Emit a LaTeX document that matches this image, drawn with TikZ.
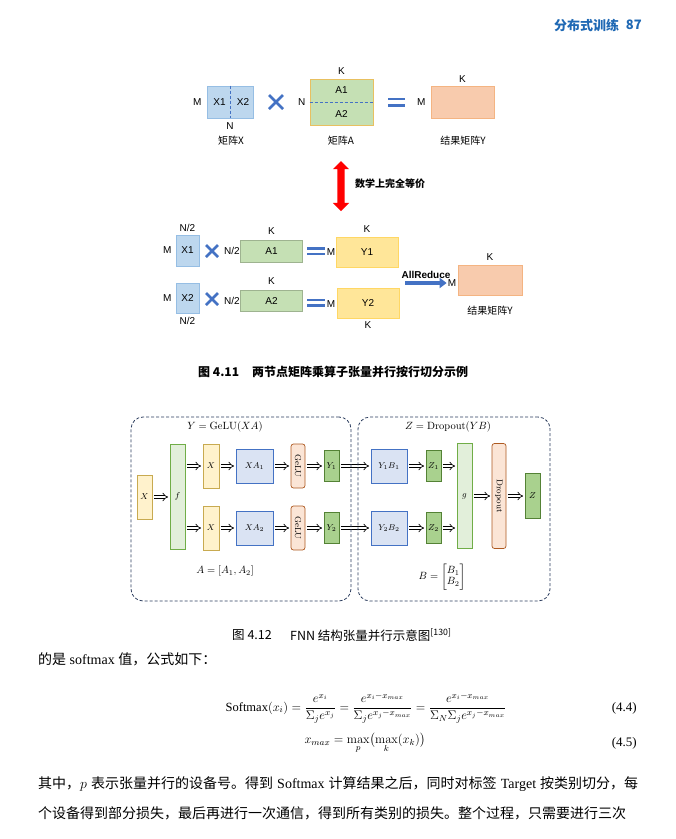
\RequirePackage{fix-cm}
\documentclass[tikz,border=0pt]{standalone}
\usepackage{amsmath}
\usepackage[no-math]{fontspec}
\setmainfont{Liberation Serif}
\newfontfamily\cjk{Noto Sans CJK SC}
\newfontfamily\arial{Liberation Sans}
\XeTeXlinebreaklocale "zh"
\XeTeXlinebreakskip=0pt plus 2pt
\usetikzlibrary{positioning,arrows.meta,shapes.arrows}

\definecolor{pageblue}{RGB}{30,104,180}
\definecolor{opblue}{RGB}{68,114,196}
\definecolor{xfill}{RGB}{189,215,238}
\definecolor{xline}{RGB}{150,190,228}
\definecolor{afill}{RGB}{197,224,180}
\definecolor{aline}{RGB}{232,192,96}
\definecolor{rfill}{RGB}{248,203,173}
\definecolor{rline}{RGB}{244,180,130}
\definecolor{yfill}{RGB}{255,230,153}
\definecolor{yline}{RGB}{255,215,100}
% colours of the FNN figure
\definecolor{inyel}{RGB}{255,242,204}
\definecolor{inyelb}{RGB}{200,170,80}
\definecolor{ltgreen}{RGB}{226,239,218}
\definecolor{ltgreenb}{RGB}{112,173,71}
\definecolor{mmblue}{RGB}{218,227,243}
\definecolor{mmblueb}{RGB}{68,114,196}
\definecolor{actfill}{RGB}{251,229,214}
\definecolor{actline}{RGB}{174,90,33}
\definecolor{dkgreen}{RGB}{169,209,142}
\definecolor{dkgreenb}{RGB}{84,130,53}
\definecolor{framec}{RGB}{45,62,95}

\begin{document}
\begin{tikzpicture}[x=1pt,y=-1pt,
    lbl/.style = {font=\arial\fontsize{10}{10}\selectfont, inner sep=0pt},
    cn/.style = {font=\cjk\fontsize{10}{10}\selectfont, inner sep=0pt},
    mat/.style = {draw, line width=0.8pt, inner sep=0pt, font=\arial\fontsize{10}{10}\selectfont},
    bar/.style = {opblue, line width=2.6pt},
    cut/.style = {opblue, line width=0.8pt, dash pattern=on 3pt off 2pt},
    blk/.style = {draw, line width=0.7pt, inner sep=0pt, font=\fontsize{8.5}{9}\selectfont},
    vblk/.style = {blk, rounded corners=2.5pt, fill=actfill, draw=actline},
    flow/.style = {double, double distance=2.2pt, line width=0.7pt, -{Implies}, shorten <=1.5pt, shorten >=1.5pt},
    frame/.style = {draw=framec, line width=0.8pt, dash pattern=on 3pt off 2pt, rounded corners=12pt, inner sep=0pt},
    math/.style = {inner sep=0pt, font=\fontsize{10.5}{11}\selectfont},
    body/.style = {anchor=west, inner sep=0pt, font=\fontsize{14}{14}\selectfont}]
\useasboundingbox (0,0) rectangle (676,839);
\fill[white] (0,0) rectangle (676,839);

% running head
\node[anchor=west, inner sep=0pt, text=pageblue, font=\cjk\bfseries\fontsize{13}{13}\selectfont] (chap) at (554,25) {分布式训练};
\node[anchor=east, inner sep=0pt, text=pageblue, font=\cjk\bfseries\fontsize{13}{13}\selectfont] (pgno) at (642,25) {87};

% ---- figure 4.11, whole product
\node[mat, fill=xfill, draw=xline, minimum width=46pt, minimum height=32pt] (matx) at (230,102) {};
\draw[cut] (matx.north) -- (matx.south);
\node[lbl] (x1) at (219.5,102) {X1};
\node[lbl] (x2) at (243,102) {X2};
\node[lbl, left=5pt of matx] (mx) {M};
\node[lbl, below=4pt of matx] (nx) {N};
\node[cn] (capx) at (231,141) {矩阵X};
\draw[bar] (269,95) -- (283,109) (269,109) -- (283,95);

\node[mat, fill=afill, draw=aline, minimum width=63pt, minimum height=46pt] (mata) at (341.5,102) {};
\draw[cut] (mata.west) -- (mata.east);
\node[lbl] (a1) at (341.5,90) {A1};
\node[lbl] (a2) at (341.5,114) {A2};
\node[lbl, above=4pt of mata] (ka) {K};
\node[lbl, left=4pt of mata] (na) {N};
\node[cn] (capa) at (341,141) {矩阵A};
\draw[bar] (388,99) -- (405,99) (388,105.5) -- (405,105.5);

\node[mat, fill=rfill, draw=rline, minimum width=63pt, minimum height=32pt] (maty) at (462.5,102) {};
\node[lbl, left=5pt of maty] (my) {M};
\node[lbl, above=3pt of maty] (ky) {K};
\node[cn] (capy) at (463,141) {结果矩阵Y};

% equivalence arrow
\node[double arrow, fill=red, draw=none, rotate=90, minimum height=50pt,
      double arrow head extend=4.5pt, inner sep=3.5pt] (eqv) at (341,186) {};
\node[cn, anchor=west, font=\cjk\bfseries\fontsize{10}{10}\selectfont] (eqvt) at (355,184) {数学上完全等价};

% ---- figure 4.11, two nodes
\node[mat, fill=xfill, draw=xline, minimum width=23pt, minimum height=31pt] (x1b) at (187.5,250.5) {X1};
\node[lbl, above=3pt of x1b] (n1) {N/2};
\node[lbl, left=4pt of x1b] (m1) {M};
\draw[bar] (206,245) -- (218,257) (206,257) -- (218,245);
\node[lbl] (na1) at (232,251) {N/2};
\node[mat, fill=afill, draw=afill!80!black, minimum width=62pt, minimum height=22pt] (a1b) at (271.5,251) {A1};
\node[lbl, above=5pt of a1b] (ka1) {K};
\draw[bar] (307,248.5) -- (325,248.5) (307,254) -- (325,254);
\node[lbl] (my1) at (331,252) {M};
\node[mat, fill=yfill, draw=yline, minimum width=62pt, minimum height=30pt] (y1b) at (367,252) {Y1};
\node[lbl, above=4pt of y1b] (ky1) {K};

\node[mat, fill=xfill, draw=xline, minimum width=23pt, minimum height=30pt] (x2b) at (187.5,298) {X2};
\node[lbl, below=4pt of x2b] (n2) {N/2};
\node[lbl, left=4pt of x2b] (m2) {M};
\draw[bar] (206,293) -- (218,305) (206,305) -- (218,293);
\node[lbl] (na2) at (232,301) {N/2};
\node[mat, fill=afill, draw=afill!80!black, minimum width=62pt, minimum height=21pt] (a2b) at (271.5,301) {A2};
\node[lbl, above=5pt of a2b] (ka2) {K};
\draw[bar] (307,300) -- (325,300) (307,305.5) -- (325,305.5);
\node[lbl] (my2) at (331,304) {M};
\node[mat, fill=yfill, draw=yline, minimum width=62pt, minimum height=30pt] (y2b) at (368,303) {Y2};
\node[lbl, below=3pt of y2b] (ky2) {K};

\node[lbl, font=\arial\bfseries\fontsize{10}{10}\selectfont] (allred) at (426,275) {AllReduce};
\coordinate (arst) at (405,283);
\node[lbl] (mres) at (452,283) {M};
\draw[opblue, line width=3.2pt, -{Triangle[length=7pt,width=10pt]}, shorten >=1pt] (arst) -- (mres.west);
\node[mat, fill=rfill, draw=rline, minimum width=64pt, minimum height=30pt] (res) at (490,280) {};
\node[lbl, above=4pt of res] (kres) {K};
\node[cn] (capres) at (490,311) {结果矩阵Y};

\node[anchor=west, inner sep=0pt, font=\cjk\bfseries\fontsize{12}{12}\selectfont] (fig1) at (198,372) {图 4.11};
\node[anchor=west, inner sep=0pt, font=\cjk\bfseries\fontsize{12}{12}\selectfont] (fig1t) at (252,372) {两节点矩阵乘算子张量并行按行切分示例};

% ---- figure 4.12
\node[blk, fill=inyel, draw=inyelb, minimum width=15pt, minimum height=44pt] (xin) at (144.5,497) {$X$};
\node[blk, fill=ltgreen, draw=ltgreenb, minimum width=15pt, minimum height=105pt] (f) at (177.5,496.5) {$f$};
\node[blk, fill=inyel, draw=inyelb, minimum width=16pt, minimum height=44pt] (xa) at (211,466) {$X$};
\node[blk, fill=inyel, draw=inyelb, minimum width=16pt, minimum height=44pt] (xb) at (211,528) {$X$};
\node[blk, fill=mmblue, draw=mmblueb, minimum width=37pt, minimum height=34pt] (xaa) at (254.5,466) {$XA_1$};
\node[blk, fill=mmblue, draw=mmblueb, minimum width=37pt, minimum height=34pt] (xab) at (254.5,528) {$XA_2$};
\node[vblk, minimum width=14pt, minimum height=44pt] (gela) at (298,466) {\rotatebox{-90}{$\mathrm{GeLU}$}};
\node[vblk, minimum width=14pt, minimum height=44pt] (gelb) at (298,528) {\rotatebox{-90}{$\mathrm{GeLU}$}};
\node[blk, fill=dkgreen, draw=dkgreenb, minimum width=15pt, minimum height=31pt] (ya) at (331.5,466) {$Y_1$};
\node[blk, fill=dkgreen, draw=dkgreenb, minimum width=15pt, minimum height=31pt] (yb) at (331.5,528) {$Y_2$};

\node[blk, fill=mmblue, draw=mmblueb, minimum width=36pt, minimum height=34pt] (yba) at (389,466) {$Y_1B_1$};
\node[blk, fill=mmblue, draw=mmblueb, minimum width=36pt, minimum height=34pt] (ybb) at (389,528) {$Y_2B_2$};
\node[blk, fill=dkgreen, draw=dkgreenb, minimum width=15pt, minimum height=31pt] (za) at (433.5,466) {$Z_1$};
\node[blk, fill=dkgreen, draw=dkgreenb, minimum width=15pt, minimum height=31pt] (zb) at (433.5,528) {$Z_2$};
\node[blk, fill=ltgreen, draw=ltgreenb, minimum width=15pt, minimum height=105pt] (gmerge) at (464.5,496) {$g$};
\node[vblk, minimum width=14pt, minimum height=105pt] (dropout) at (499,496) {\rotatebox{-90}{$\mathrm{Dropout}$}};
\node[blk, fill=dkgreen, draw=dkgreenb, minimum width=15pt, minimum height=45pt] (zout) at (532.5,496) {$Z$};

\draw[flow] (xin.east) -- (xin.east -| f.west);
\draw[flow] (f.east |- xa) -- (xa);
\draw[flow] (f.east |- xb) -- (xb);
\draw[flow] (xa) -- (xaa);
\draw[flow] (xb) -- (xab);
\draw[flow] (xaa) -- (gela);
\draw[flow] (xab) -- (gelb);
\draw[flow] (gela) -- (ya);
\draw[flow] (gelb) -- (yb);
\draw[flow] (ya) -- (yba);
\draw[flow] (yb) -- (ybb);
\draw[flow] (yba) -- (za);
\draw[flow] (ybb) -- (zb);
\draw[flow] (za) -- (za -| gmerge.west);
\draw[flow] (zb) -- (zb -| gmerge.west);
\draw[flow] (gmerge) -- (dropout);
\draw[flow] (dropout) -- (zout);

\node[frame, minimum width=220pt, minimum height=184pt] (lfrm) at (241,509) {};
\node[frame, minimum width=192pt, minimum height=184pt] (rfrm) at (454,509) {};
\node[math] (ttl) at (225,427) {$Y=\mathrm{GeLU}(XA)$};
\node[math] (ttr) at (448,427) {$Z=\mathrm{Dropout}(YB)$};
\node[math] (asplit) at (225,571) {$A=[A_1,A_2]$};
\node[math] (bsplit) at (442,577) {$B=\begin{bmatrix}B_1\\B_2\end{bmatrix}$};

\node[anchor=west, inner sep=0pt, font=\cjk\fontsize{12.5}{13}\selectfont] (fig2) at (232,635) {图 4.12};
\node[anchor=west, inner sep=0pt, font=\cjk\fontsize{12.5}{13}\selectfont] (fig2t) at (290,635) {FNN 结构张量并行示意图\textsuperscript{[130]}};

% ---- running text and formulas
\node[body] (line0) at (38,659) {{\cjk 的是} softmax {\cjk 值，公式如下：}};
\node[inner sep=0pt, font=\fontsize{12.5}{13}\selectfont] (eqa) at (366,708)
  {$\displaystyle \text{Softmax}(x_i)=\frac{e^{x_i}}{\Sigma_j e^{x_j}}=\frac{e^{x_i-x_{max}}}{\Sigma_j e^{x_j-x_{max}}}=\frac{e^{x_i-x_{max}}}{\Sigma_N\Sigma_j e^{x_j-x_{max}}}$};
\node[anchor=east, inner sep=0pt, font=\fontsize{13}{13}\selectfont] (eqan) at (637,708) {(4.4)};
\node[inner sep=0pt, font=\fontsize{12.5}{13}\selectfont] (eqb) at (365,743) {$\displaystyle x_{max}=\max_p\bigl(\max_k(x_k)\bigr)$};
\node[anchor=east, inner sep=0pt, font=\fontsize{13}{13}\selectfont] (eqbn) at (637,743) {(4.5)};
\node[body] (line1) at (38,784) {\makebox[600pt][s]{{\cjk 其中，}$p$ {\cjk 表示张量并行的设备号。得到} Softmax {\cjk 计算结果之后，同时对标签} Target {\cjk 按类别切分，每}}};
\node[body] (line2) at (38,813) {\makebox[600pt][s]{\cjk 个设备得到部分损失，最后再进行一次通信，得到所有类别的损失。整个过程，只需要进行三次}};
\end{tikzpicture}
\end{document}
